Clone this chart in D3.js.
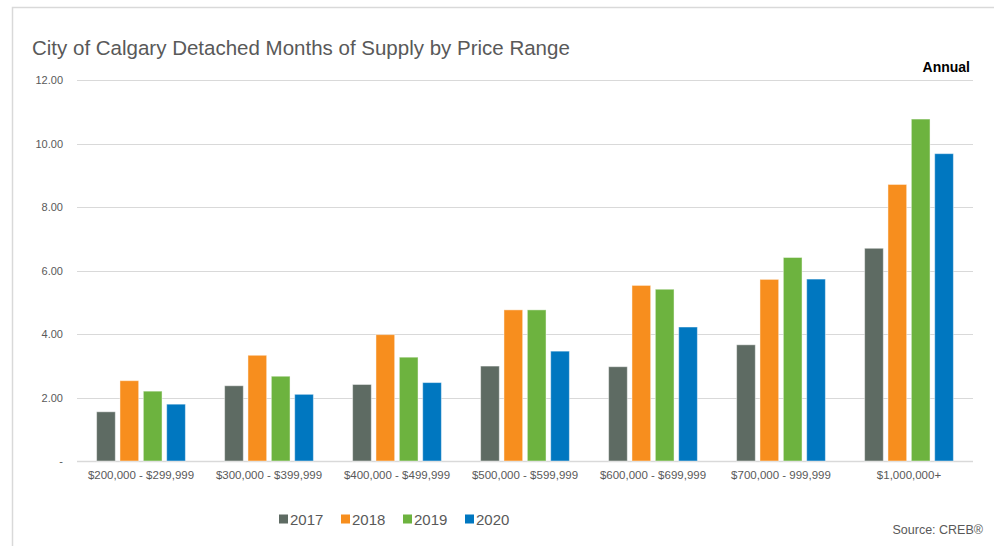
<!DOCTYPE html>
<html>
<head>
<meta charset="utf-8">
<script src="https://cdn.jsdelivr.net/npm/d3@7"></script>
<style>
    body { margin: 0; background: #fff; }
    svg { display: block; font-family: "Liberation Sans", Arial, sans-serif; }
</style>
</head>
<body>
<svg id="drawing_region"></svg>
<script>
const categories = ['$200,000 - $299,999', '$300,000 - $399,999', '$400,000 - $499,999',
    '$500,000 - $599,999', '$600,000 - $699,999', '$700,000 - 999,999', '$1,000,000+'];
const years = ['2017', '2018', '2019', '2020'];
const values2017 = [1.55, 2.37, 2.41, 2.99, 2.97, 3.66, 6.70];
const values2018 = [2.53, 3.33, 3.98, 4.76, 5.53, 5.72, 8.71];
const values2019 = [2.20, 2.67, 3.27, 4.76, 5.41, 6.41, 10.77];
const values2020 = [1.79, 2.10, 2.47, 3.46, 4.22, 5.73, 9.68];
const yTicks = [0, 2, 4, 6, 8, 10, 12];
const colors = ['#5e6b63', '#f78e1e', '#6db33f', '#0077c0'];

const series = [values2017, values2018, values2019, values2020];
const data = categories.map((c, i) => ({
    category: c,
    values: years.map((y, j) => ({ year: y, value: series[j][i] }))
}));

const config = {
    width: 994,
    height: 546,
    margin: { top: 80, right: 21, bottom: 85, left: 77 }
};

const svg = d3.select('#drawing_region')
    .attr('width', config.width)
    .attr('height', config.height);

// frame of the original slide
svg.append('path')
    .attr('d', `M12.5,${config.height} V7.5 H${config.width}`)
    .attr('fill', 'none')
    .attr('stroke', '#d9d9d9')
    .attr('stroke-width', 1.5);

const innerW = config.width - config.margin.left - config.margin.right;
const y0 = 461;

const x0 = d3.scaleBand()
    .domain(categories)
    .range([config.margin.left, config.margin.left + innerW])
    .paddingInner(0.27)
    .paddingOuter(0.135);

const x1 = d3.scaleBand()
    .domain(years)
    .range([0, x0.bandwidth()])
    .paddingInner(0.2)
    .paddingOuter(0.1);

const y = d3.scaleLinear()
    .domain([0, 12])
    .range([y0, 80]);

const color = d3.scaleOrdinal().domain(years).range(colors);

// grid lines
svg.append('g')
    .selectAll('line')
    .data(yTicks)
    .join('line')
    .attr('x1', config.margin.left)
    .attr('x2', config.margin.left + innerW)
    .attr('y1', d => Math.round(y(d)) + 0.5)
    .attr('y2', d => Math.round(y(d)) + 0.5)
    .attr('stroke', '#d9d9d9')
    .attr('stroke-width', d => d === 0 ? 1.5 : 1.2);

// y axis labels
svg.append('g')
    .selectAll('text')
    .data(yTicks)
    .join('text')
    .attr('x', 63)
    .attr('y', d => y(d) + 4)
    .attr('text-anchor', 'end')
    .attr('font-size', 11)
    .attr('fill', '#595959')
    .text(d => d === 0 ? '-' : d3.format('.2f')(d));

// bars
const groups = svg.append('g')
    .selectAll('g')
    .data(data)
    .join('g')
    .attr('transform', d => `translate(${x0(d.category)},0)`);

groups.selectAll('rect')
    .data(d => d.values)
    .join('rect')
    .attr('x', d => x1(d.year))
    .attr('y', d => y(d.value))
    .attr('width', x1.bandwidth())
    .attr('height', d => y0 - y(d.value))
    .attr('fill', d => color(d.year))
    .attr('stroke', 'rgba(255,255,255,0.45)')
    .attr('stroke-width', 1);

// x axis labels
svg.append('g')
    .selectAll('text')
    .data(categories)
    .join('text')
    .attr('x', d => x0(d) + x0.bandwidth() / 2)
    .attr('y', 479)
    .attr('text-anchor', 'middle')
    .attr('font-size', 11.5)
    .attr('fill', '#595959')
    .text(d => d);

// title
svg.append('text')
    .attr('x', 32)
    .attr('y', 55)
    .attr('font-size', 20.5)
    .attr('fill', '#595959')
    .text('City of Calgary Detached Months of Supply by Price Range');

svg.append('text')
    .attr('x', 970)
    .attr('y', 72)
    .attr('text-anchor', 'end')
    .attr('font-size', 14)
    .attr('font-weight', 'bold')
    .attr('fill', '#000')
    .text('Annual');

// legend
const legend = svg.append('g')
    .selectAll('g')
    .data(years)
    .join('g')
    .attr('transform', (d, i) => `translate(${279 + i * 62},519)`);

legend.append('rect')
    .attr('x', 0)
    .attr('y', -4.5)
    .attr('width', 9)
    .attr('height', 9)
    .attr('fill', d => color(d));

legend.append('text')
    .attr('x', 11)
    .attr('y', 5.5)
    .attr('font-size', 15)
    .attr('fill', '#595959')
    .text(d => d);

svg.append('text')
    .attr('x', 983)
    .attr('y', 534)
    .attr('text-anchor', 'end')
    .attr('font-size', 12.5)
    .attr('fill', '#595959')
    .text('Source: CREB®');
</script>
</body>
</html>
